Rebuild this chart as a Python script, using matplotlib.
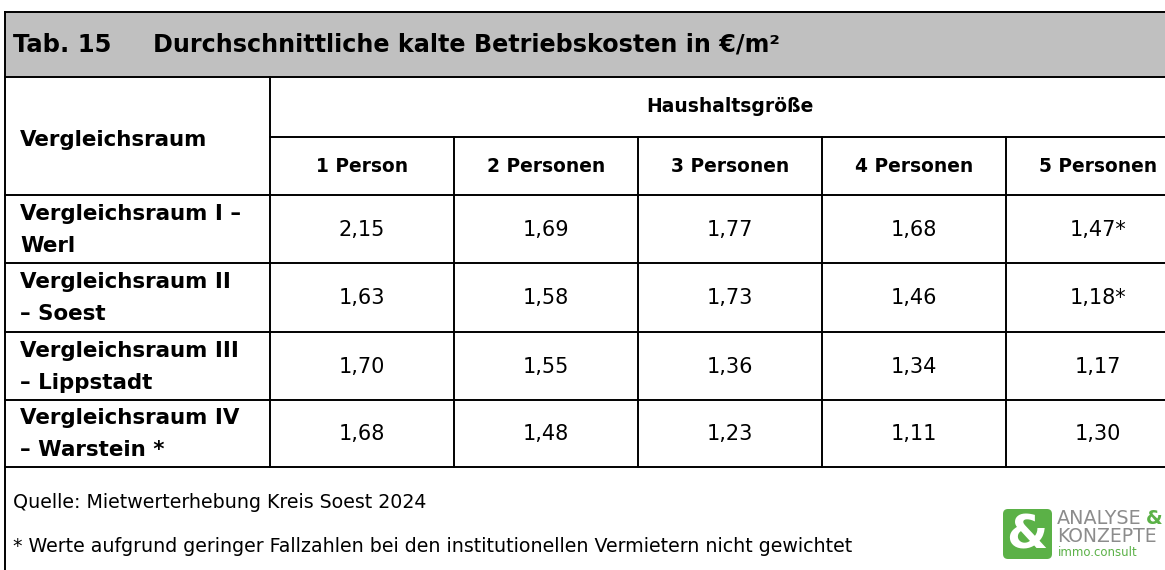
import matplotlib.pyplot as plt
from matplotlib.patches import Rectangle, FancyBboxPatch

# table content
title_no = "Tab. 15"
title = "Durchschnittliche kalte Betriebskosten in €/m²"
group_label = "Haushaltsgröße"
row_header = "Vergleichsraum"
columns = ["1 Person", "2 Personen", "3 Personen", "4 Personen", "5 Personen"]
regions = [
    ("Vergleichsraum I –", "Werl"),
    ("Vergleichsraum II", "– Soest"),
    ("Vergleichsraum III", "– Lippstadt"),
    ("Vergleichsraum IV", "– Warstein *"),
]
values = [
    [2.15, 1.69, 1.77, 1.68, 1.47],
    [1.63, 1.58, 1.73, 1.46, 1.18],
    [1.70, 1.55, 1.36, 1.34, 1.17],
    [1.68, 1.48, 1.23, 1.11, 1.30],
]
# cells flagged with * (unweighted)
flags = [
    [False, False, False, False, True],
    [False, False, False, False, True],
    [False, False, False, False, False],
    [False, False, False, False, False],
]
source = "Quelle: Mietwerterhebung Kreis Soest 2024"
note = "* Werte aufgrund geringer Fallzahlen bei den institutionellen Vermietern nicht gewichtet"

W, H = 1165, 570
fig = plt.figure(figsize=(W / 100, H / 100), dpi=100)
ax = fig.add_axes([0, 0, 1, 1])
ax.set_xlim(0, W)
ax.set_ylim(H, 0)
ax.axis("off")

lw = 1.4
left, top = 5, 12
head_bot = 77
sub_line = 137
row_lines = [195, 263, 332, 400, 467]
col_x = [270, 454, 638, 822, 1006, 1190]

# title bar
ax.add_patch(Rectangle((left, top), W - left, head_bot - top, facecolor="#c0c0c0",
                       edgecolor="none"))
ax.plot([left, W], [top, top], color="black", lw=lw)
ax.plot([left, W], [head_bot, head_bot], color="black", lw=lw)
ax.plot([left, left], [top, H], color="black", lw=lw)
ax.text(13, 45, title_no, fontsize=17.5, fontweight="bold", va="center", ha="left")
ax.text(153, 45, title, fontsize=17.2, fontweight="bold", va="center", ha="left")

# grid
ax.plot([col_x[0], W], [sub_line, sub_line], color="black", lw=lw)
for y in row_lines:
    ax.plot([left, W], [y, y], color="black", lw=lw)
ax.plot([col_x[0], col_x[0]], [head_bot, row_lines[-1]], color="black", lw=lw)
for x in col_x[1:-1]:
    ax.plot([x, x], [sub_line, row_lines[-1]], color="black", lw=lw)

# headers
ax.text(20, 140, row_header, fontsize=15.4, fontweight="bold", va="center")
ax.text((col_x[0] + col_x[-1]) / 2, 107, group_label, fontsize=13.5,
        fontweight="bold", ha="center", va="center")
for i, c in enumerate(columns):
    ax.text((col_x[i] + col_x[i + 1]) / 2, 167, c, fontsize=13.4, fontweight="bold",
            ha="center", va="center")

# body
for r, (l1, l2) in enumerate(regions):
    y0, y1 = row_lines[r], row_lines[r + 1]
    ym = (y0 + y1) / 2
    ax.text(20, ym - 15, l1, fontsize=15.4, fontweight="bold", va="center")
    ax.text(20, ym + 17, l2, fontsize=15.4, fontweight="bold", va="center")
    for c, v in enumerate(values[r]):
        s = f"{v:.2f}".replace(".", ",") + ("*" if flags[r][c] else "")
        ax.text((col_x[c] + col_x[c + 1]) / 2, ym + 1, s, fontsize=15,
                ha="center", va="center")

# footer
ax.text(13, 503, source, fontsize=13.7, va="center")
ax.text(13, 546, note, fontsize=13.7, va="center")

# logo
green = "#5bb147"
ax.add_patch(FancyBboxPatch((1003, 509), 49, 50, boxstyle="round,pad=0,rounding_size=5",
                            facecolor=green, edgecolor="none"))
ax.text(1027, 536, "&", fontsize=34, fontweight="bold", color="white",
        ha="center", va="center")
ax.text(1057, 518, "ANALYSE", fontsize=13.8, color="#8c8c8c", va="center")
ax.text(1146, 518, "&", fontsize=13.8, fontweight="bold", color=green, va="center")
ax.text(1057, 537, "KONZEPTE", fontsize=13.5, color="#8c8c8c", va="center")
ax.text(1058, 553, "immo.consult", fontsize=8.5, color=green, va="center")

fig.savefig("out.png", dpi=100)
